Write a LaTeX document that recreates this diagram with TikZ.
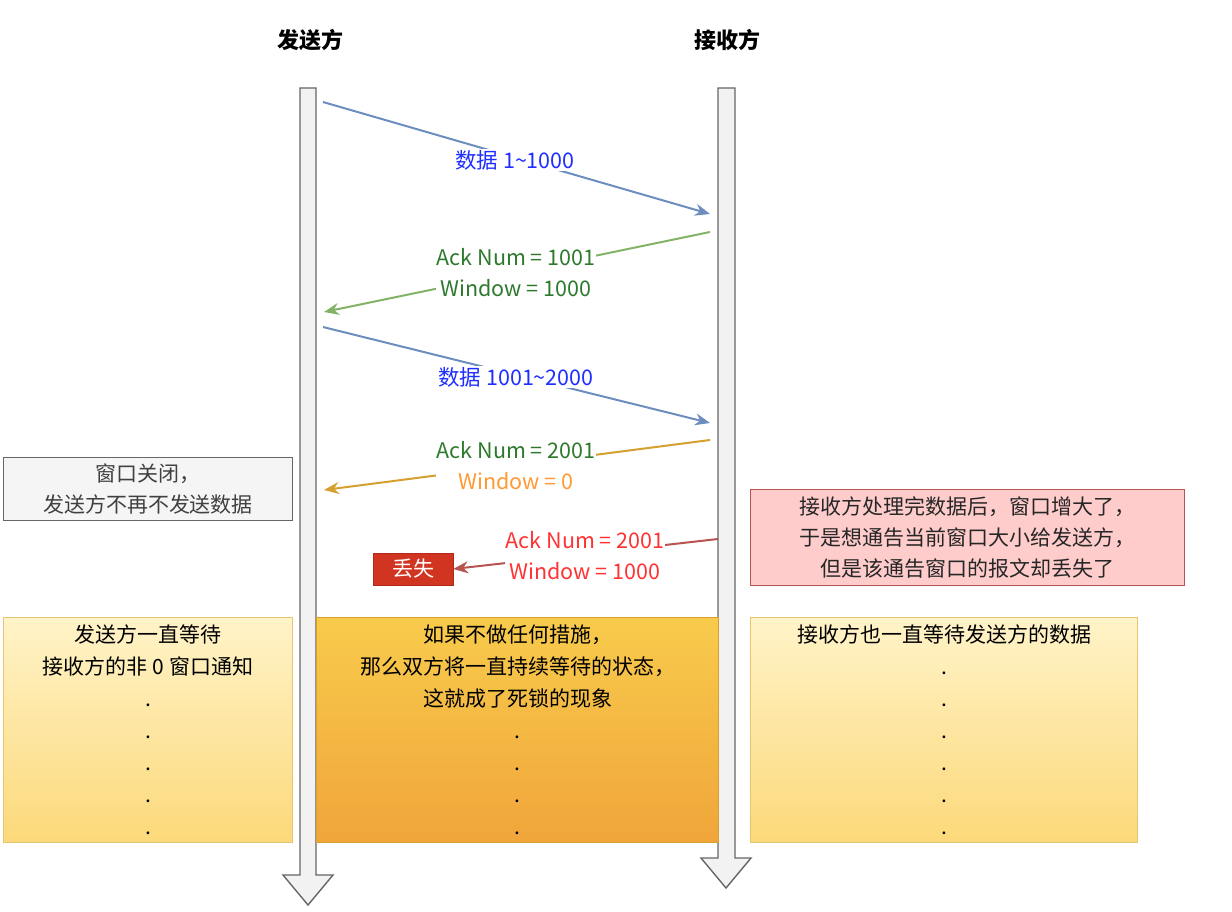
\documentclass[tikz,border=0pt]{standalone}
\usepackage{fontspec}
\setmainfont{Noto Sans CJK SC}
\usetikzlibrary{arrows.meta,shapes.arrows}
\definecolor{blu}{HTML}{6C8EBF}
\definecolor{blut}{HTML}{1F2FFF}
\definecolor{grn}{HTML}{82B366}
\definecolor{grnt}{HTML}{2D7A2D}
\definecolor{org}{HTML}{D6A02F}
\definecolor{orgt}{HTML}{FF9933}
\definecolor{rd}{HTML}{B85450}
\definecolor{rdt}{HTML}{FF3333}
\definecolor{ytop}{HTML}{FFF3C8}
\definecolor{ybot}{HTML}{FCD97A}
\definecolor{ydraw}{HTML}{E6C470}
\definecolor{otop}{HTML}{F8CB4C}
\definecolor{obot}{HTML}{F0A53A}
\definecolor{odraw}{HTML}{D9A030}
\tikzset{
 msg/.style={line width=2pt,-{Stealth[length=15pt,width=12pt]}},
 lbl/.style={fill=white,inner sep=1pt,font=\fontsize{21.5}{31}\selectfont,align=center},
 note/.style={draw,line width=1pt,anchor=north west,inner sep=0pt},
 bigarrow/.style={draw=gray!80!black,fill=gray!10,line width=1.4pt},
 txt/.style={font=\fontsize{21}{32}\selectfont,align=center},
}
\begin{document}
\begin{tikzpicture}[x=1pt,y=-1pt]
\useasboundingbox (0,0) rectangle (1232,912);
\node[font=\fontsize{22}{24}\selectfont\bfseries] (ts) at (310,40) {发送方};
\node[font=\fontsize{22}{24}\selectfont\bfseries] (tr) at (727,40) {接收方};
% life lines
\draw[bigarrow] (300,88) -- (316,88) -- (316,875) -- (333,875) -- (308,905) -- (283,875) -- (300,875) -- cycle;
\draw[bigarrow] (718,88) -- (735,88) -- (735,858) -- (751,858) -- (726,888) -- (701,858) -- (718,858) -- cycle;
% bottom boxes
\node[note,draw=ydraw,top color=ytop,bottom color=ybot,minimum width=289pt,minimum height=225pt] (lb) at (3,617) {};
\node[note,draw=odraw,top color=otop,bottom color=obot,minimum width=402pt,minimum height=225pt] (mb) at (316,617) {};
\node[note,draw=ydraw,top color=ytop,bottom color=ybot,minimum width=387pt,minimum height=225pt] (rb) at (750,617) {};
\node[txt,anchor=north] at (lb.north) [yshift=-4pt] {发送方一直等待\\接收方的非 0 窗口通知\\.\\.\\.\\.\\.};
\node[txt,anchor=north] at (mb.north) [yshift=-4pt] {如果不做任何措施，\\那么双方将一直持续等待的状态，\\这就成了死锁的现象\\.\\.\\.\\.};
\node[txt,anchor=north] at (rb.north) [yshift=-4pt] {接收方也一直等待发送方的数据\\.\\.\\.\\.\\.\\.};
% notes
\node[note,draw=gray!80!black,fill=gray!8,minimum width=289pt,minimum height=63pt] (n1) at (3,457) {};
\node[txt,font=\fontsize{21}{31}\selectfont,text=black!75] at (n1) {窗口关闭，\\发送方不再不发送数据};
\node[note,draw=rd,fill=red!20,minimum width=434pt,minimum height=96pt] (n2) at (750,489) {};
\node[txt,font=\fontsize{21}{31}\selectfont,text=black!85] at (n2) {接收方处理完数据后，窗口增大了，\\于是想通告当前窗口大小给发送方，\\但是该通告窗口的报文却丢失了};
% endpoints
\coordinate (a1) at (323,102); \coordinate (b1) at (710,214);
\coordinate (a2) at (710,232); \coordinate (b2) at (324,312);
\coordinate (a3) at (323,327); \coordinate (b3) at (710,423);
\coordinate (a4) at (710,440); \coordinate (b4) at (324,490);
\coordinate (a5) at (718,539);
\node[fill={rgb,255:red,209;green,52;blue,33},draw={rgb,255:red,180;green,40;blue,25},text=white,minimum width=80pt,minimum height=32pt,inner sep=0pt,font=\fontsize{21}{24}\selectfont] (lost) at (413,569) {丢失};
\draw[msg,blu] (a1) -- (b1);
\draw[msg,grn] (a2) -- (b2);
\draw[msg,blu] (a3) -- (b3);
\draw[msg,org] (a4) -- (b4);
\draw[msg,rd] (a5) -- (lost.east);
\node[lbl,text=blut] at (515,160) {数据 1\textasciitilde1000};
\node[lbl] at (516,273) {\textcolor{grnt}{Ack Num = 1001}\\\textcolor{grnt}{Window = 1000}};
\node[lbl,text=blut] at (516,377) {数据 1001\textasciitilde2000};
\node[lbl] at (516,466) {\textcolor{grnt}{Ack Num = 2001}\\\textcolor{orgt}{Window = 0}};
\node[lbl,text=rdt] at (585,556) {Ack Num = 2001\\Window = 1000};
\end{tikzpicture}
\end{document}
